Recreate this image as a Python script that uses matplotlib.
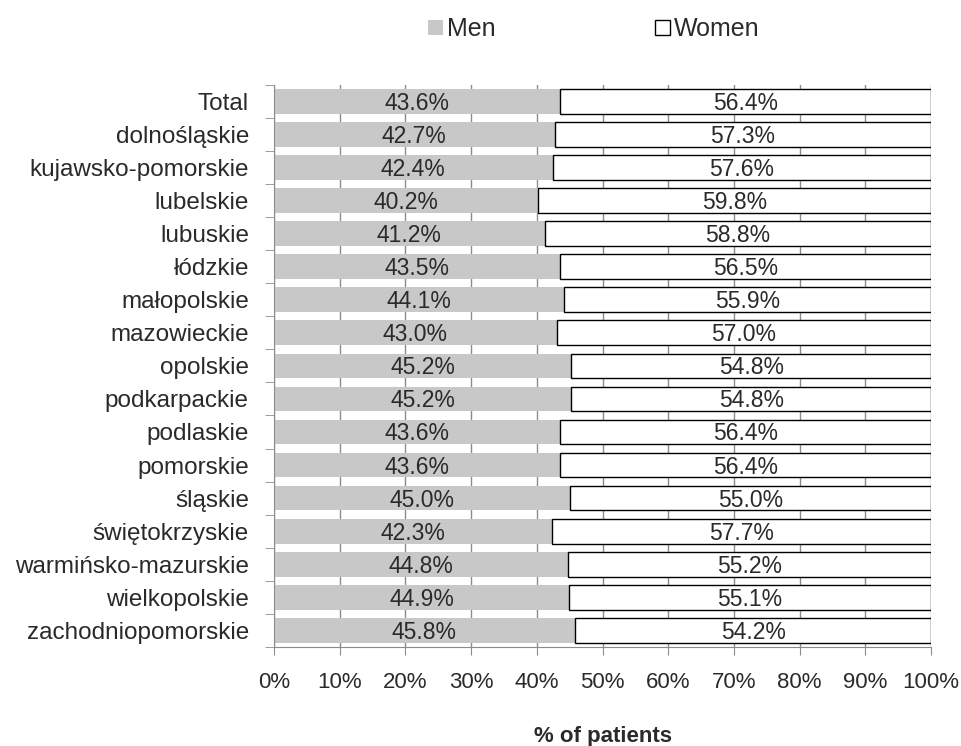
import numpy as np
import matplotlib.pyplot as plt
from matplotlib.ticker import FixedLocator, PercentFormatter
from matplotlib.patches import Patch

regions = ['Total', 'dolnośląskie', 'kujawsko-pomorskie', 'lubelskie', 'lubuskie',
           'łódzkie', 'małopolskie', 'mazowieckie', 'opolskie', 'podkarpackie',
           'podlaskie', 'pomorskie', 'śląskie', 'świętokrzyskie',
           'warmińsko-mazurskie', 'wielkopolskie', 'zachodniopomorskie']
men = [43.6, 42.7, 42.4, 40.2, 41.2, 43.5, 44.1, 43.0, 45.2, 45.2,
       43.6, 43.6, 45.0, 42.3, 44.8, 44.9, 45.8]
women = [56.4, 57.3, 57.6, 59.8, 58.8, 56.5, 55.9, 57.0, 54.8, 54.8,
         56.4, 56.4, 55.0, 57.7, 55.2, 55.1, 54.2]

plt.rcParams['font.family'] = ['Liberation Sans', 'DejaVu Sans']
plt.rcParams['font.size'] = 14

fig = plt.figure(figsize=(9.61, 7.46), dpi=100)
ax = fig.add_axes([0.285, 0.133, 0.684, 0.753])

y = np.arange(len(regions))
men = np.array(men)
women = np.array(women)

ax.barh(y, men, height=0.75, color='#c8c8c8', edgecolor='none', zorder=2)
ax.barh(y, women, left=men, height=0.75, color='white', edgecolor='black',
        linewidth=1.0, zorder=2)

# percentage labels centred in each segment, nudged a bit below the middle
for i in range(len(regions)):
    ax.text(men[i] / 2, y[i] + 0.06, '%.1f%%' % men[i], ha='center',
            va='center', fontsize=16.5, color='#2a2a2a', zorder=3)
    ax.text(men[i] + women[i] / 2, y[i] + 0.06, '%.1f%%' % women[i],
            ha='center', va='center', fontsize=16.5, color='#2a2a2a', zorder=3)

ax.set_xlim(0, 100)
ax.set_ylim(len(regions) - 0.5, -0.5)
ax.set_xticks(np.arange(0, 101, 10))
ax.xaxis.set_major_formatter(PercentFormatter(decimals=0))
ax.xaxis.grid(True, color='#8c8c8c', linewidth=1.0, zorder=0)
ax.set_axisbelow(True)

ax.set_yticks(y)
ax.set_yticklabels(regions, fontsize=17.5, color='#2a2a2a')
ax.yaxis.set_minor_locator(FixedLocator(np.arange(-0.5, len(regions), 1)))
ax.tick_params(axis='y', which='major', length=0, pad=18)
ax.tick_params(axis='y', which='minor', length=6.5, color='#8c8c8c')
ax.tick_params(axis='x', length=6, color='#8c8c8c', labelsize=16, pad=12,
               labelcolor='#2a2a2a')

for s in ['top', 'right']:
    ax.spines[s].set_visible(False)
ax.spines['left'].set_color('#8c8c8c')
ax.spines['bottom'].set_color('#8c8c8c')

ax.set_xlabel('% of patients', fontsize=16, fontweight='bold', labelpad=24,
              color='#2a2a2a')

handles = [Patch(facecolor='#c8c8c8', edgecolor='none', label='Men'),
           Patch(facecolor='white', edgecolor='black', label='Women')]
fig.legend(handles=handles, loc='upper center', bbox_to_anchor=(0.618, 1.007),
           ncol=2, frameon=False, fontsize=18, handlelength=0.6,
           handleheight=0.6, handletextpad=0.15, columnspacing=6.4,
           labelcolor='#2a2a2a')

plt.savefig('out.png', dpi=100)
